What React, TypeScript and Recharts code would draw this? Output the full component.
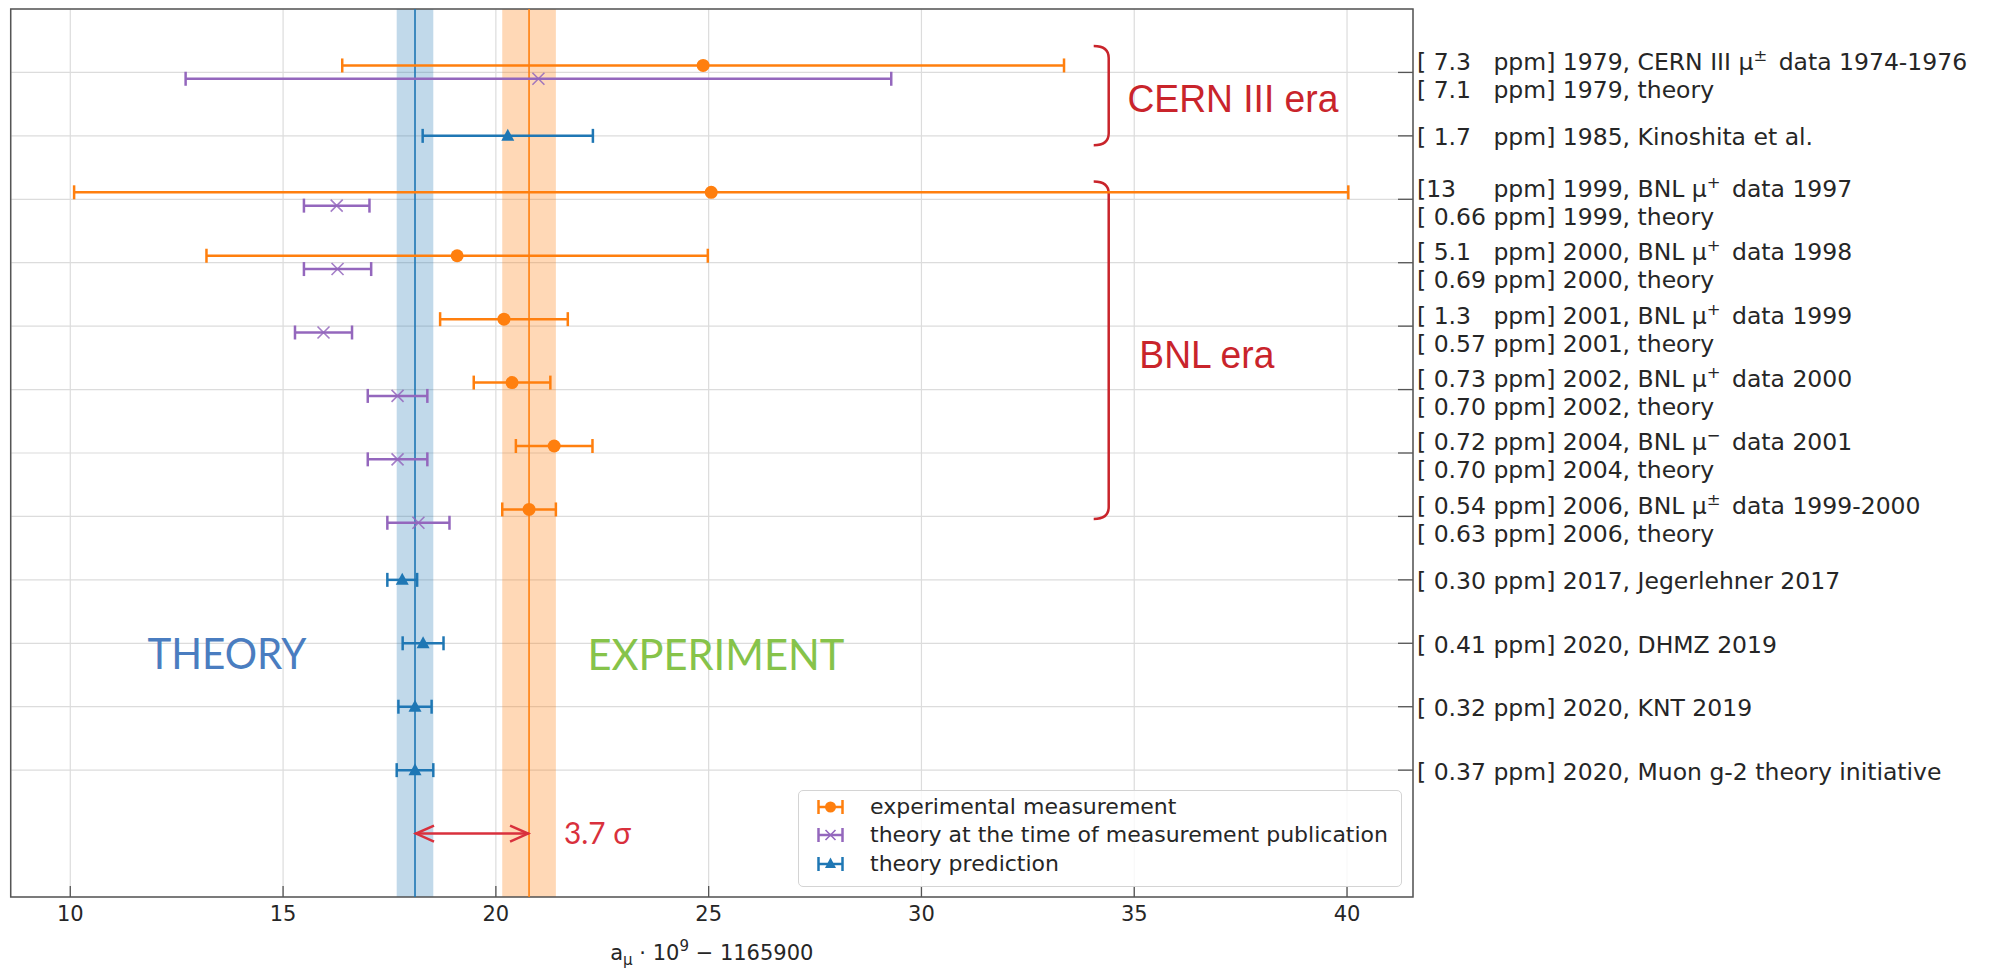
import React from 'react'
import {
  ScatterChart,
  Scatter,
  XAxis,
  YAxis,
  CartesianGrid,
  ErrorBar,
  ReferenceArea,
  ReferenceLine,
  ReferenceDot,
  Legend,
} from 'recharts'

const ORANGE = '#ff7f0e'
const PURPLE = '#9467bd'
const BLUE = '#1f77b4'
const ERA_RED = '#c9242b'
const SIGMA_RED = '#d9303c'
const TEXT = '#262626'
const FRAME = '#555555'
const MPL_FONT = '"DejaVu Sans", sans-serif'
const SLIDE_FONT = 'Lato, "Open Sans", "DejaVu Sans", sans-serif'

const xDomain: [number, number] = [8.6, 41.55]
const yDomain: [number, number] = [-1, 13]
const xTicks = [10, 15, 20, 25, 30, 35, 40]
const rowTicks = [0, 1, 2, 3, 4, 5, 6, 7, 8, 9, 10, 11]

// one entry per row (top to bottom), "^" marks a superscript character
const rowLabels: string[][] = [
  ['[ 7.3   ppm] 1979, CERN III μ^± data 1974-1976', '[ 7.1   ppm] 1979, theory'],
  ['[ 1.7   ppm] 1985, Kinoshita et al.'],
  ['[13     ppm] 1999, BNL μ^+ data 1997', '[ 0.66 ppm] 1999, theory'],
  ['[ 5.1   ppm] 2000, BNL μ^+ data 1998', '[ 0.69 ppm] 2000, theory'],
  ['[ 1.3   ppm] 2001, BNL μ^+ data 1999', '[ 0.57 ppm] 2001, theory'],
  ['[ 0.73 ppm] 2002, BNL μ^+ data 2000', '[ 0.70 ppm] 2002, theory'],
  ['[ 0.72 ppm] 2004, BNL μ^− data 2001', '[ 0.70 ppm] 2004, theory'],
  ['[ 0.54 ppm] 2006, BNL μ^± data 1999-2000', '[ 0.63 ppm] 2006, theory'],
  ['[ 0.30 ppm] 2017, Jegerlehner 2017'],
  ['[ 0.41 ppm] 2020, DHMZ 2019'],
  ['[ 0.32 ppm] 2020, KNT 2019'],
  ['[ 0.37 ppm] 2020, Muon g-2 theory initiative'],
]

// experimental measurements
const expRows = [0, 2, 3, 4, 5, 6, 7]
const expValues = [24.87, 25.06, 19.09, 20.19, 20.38, 21.37, 20.78]
const expErrors = [8.48, 14.97, 5.89, 1.5, 0.9, 0.9, 0.63]

// theory at the time of measurement publication
const pubTheoryRows = [0, 2, 3, 4, 5, 6, 7]
const pubTheoryValues = [21.0, 16.26, 16.28, 15.95, 17.69, 17.69, 18.18]
const pubTheoryErrors = [8.29, 0.77, 0.79, 0.67, 0.7, 0.7, 0.73]

// theory predictions
const predRows = [1, 8, 9, 10, 11]
const predValues = [20.28, 17.8, 18.29, 18.1, 18.1]
const predErrors = [2.0, 0.35, 0.48, 0.39, 0.43]

const legendNames = [
  'experimental measurement',
  'theory at the time of measurement publication',
  'theory prediction',
]

// rows with two points are split a little apart
const EXP_SHIFT = -0.11
const PUB_SHIFT = 0.1

const sigmaRow = 12
const sigmaText = '3.7 σ'

const eraLabels = [
  { text: 'CERN III era', x: 34.84, y: 0.41 },
  { text: 'BNL era', x: 35.12, y: 4.45 },
]
const braces = [
  { x: 34.4, from: -0.415, to: 1.15 },
  { x: 34.4, from: 1.72, to: 7.04 },
]
const regionLabels = [
  { text: 'THEORY', x: 13.68, y: 9.16, color: '#4a7dc0', length: 159 },
  { text: 'EXPERIMENT', x: 25.17, y: 9.17, color: '#86c34a', length: 257 },
]

const expData = expValues.map((v, i) => ({ x: v, y: expRows[i] + EXP_SHIFT, err: expErrors[i] }))
const pubData = pubTheoryValues.map((v, i) => ({ x: v, y: pubTheoryRows[i] + PUB_SHIFT, err: pubTheoryErrors[i] }))
const predData = predValues.map((v, i) => ({ x: v, y: predRows[i], err: predErrors[i] }))

const theoryCenter = predValues[predValues.length - 1]
const theoryErr = predErrors[predErrors.length - 1]
const expCenter = expValues[expValues.length - 1]
const expErr = expErrors[expErrors.length - 1]

const CircleMarker = (p: any) => <circle cx={p.cx} cy={p.cy} r={6.5} fill={ORANGE} />
const CrossMarker = (p: any) => {
  const s = 6
  return (
    <path
      d={`M${p.cx - s},${p.cy - s}L${p.cx + s},${p.cy + s}M${p.cx - s},${p.cy + s}L${p.cx + s},${p.cy - s}`}
      stroke={PURPLE}
      strokeOpacity={0.85}
      strokeWidth={1.6}
      fill="none"
    />
  )
}
const TriangleMarker = (p: any) => (
  <path d={`M${p.cx},${p.cy - 7}L${p.cx + 6.5},${p.cy + 5}L${p.cx - 6.5},${p.cy + 5}Z`} fill={BLUE} />
)

const richLine = (line: string, fontSize: number) => {
  const parts = line.split(/\^(.)/)
  return parts.map((part, i) => {
    if (i % 2 === 1) {
      return (
        <tspan key={i} dy={-9} fontSize={fontSize * 0.7}>
          {part}
        </tspan>
      )
    }
    if (i > 0) {
      return (
        <tspan key={i} dy={9} dx={4}>
          {part}
        </tspan>
      )
    }
    return <tspan key={i}>{part}</tspan>
  })
}

const YTick = (props: any) => {
  const { x, y, payload } = props
  const lines = rowLabels[payload.value] || []
  const firstY = lines.length === 2 ? y - 11 : y + 1
  return (
    <g>
      <line x1={x - 15} x2={x} y1={y} y2={y} stroke={FRAME} strokeWidth={1.3} />
      {lines.map((line, i) => (
        <text
          key={i}
          x={x + 4}
          y={firstY + i * 28}
          dy="0.36em"
          fontSize={23.5}
          fontFamily={MPL_FONT}
          fill={TEXT}
          style={{ whiteSpace: 'pre' }}
        >
          {richLine(line, 23.5)}
        </text>
      ))}
    </g>
  )
}

const XTick = (props: any) => {
  const { x, y, payload } = props
  return (
    <g>
      <line x1={x} x2={x} y1={y - 11} y2={y} stroke={FRAME} strokeWidth={1.3} />
      <text x={x} y={y + 16} dy="0.36em" textAnchor="middle" fontSize={21} fontFamily={MPL_FONT} fill={TEXT}>
        {payload.value}
      </text>
    </g>
  )
}

const TopTick = (props: any) => {
  const { x, y } = props
  return <line x1={x} x2={x} y1={y} y2={y + 11} stroke={FRAME} strokeWidth={1.3} />
}

const XTitle = (props: any) => {
  const vb = props.viewBox || { x: 0, y: 0, width: 0 }
  const cx = vb.x + vb.width / 2
  return (
    <text x={cx} y={vb.y + 63} textAnchor="middle" fontSize={21} fontFamily={MPL_FONT} fill={TEXT} style={{ whiteSpace: 'pre' }}>
      <tspan>a</tspan>
      <tspan dy={5} fontSize={15}>μ</tspan>
      <tspan dy={-5}> · 10</tspan>
      <tspan dy={-9} fontSize={15}>9</tspan>
      <tspan dy={9}> − 1165900</tspan>
    </text>
  )
}

const SigmaArrow = (p: any) => {
  const l = Math.min(p.x1, p.x2)
  const r = Math.max(p.x1, p.x2)
  const y = p.y1
  return (
    <g stroke={SIGMA_RED} strokeWidth={2.5} fill="none">
      <path d={`M${l},${y}L${r},${y}`} />
      <path d={`M${l + 19},${y - 8}L${l + 1},${y}L${l + 19},${y + 8}`} />
      <path d={`M${r - 19},${y - 8}L${r - 1},${y}L${r - 19},${y + 8}`} />
    </g>
  )
}

const Brace = (p: any) => {
  const x = p.x1
  const top = Math.min(p.y1, p.y2)
  const bot = Math.max(p.y1, p.y2)
  return (
    <path
      d={`M${x - 15},${top} Q${x},${top} ${x},${top + 12} L${x},${bot - 12} Q${x},${bot} ${x - 15},${bot}`}
      stroke={ERA_RED}
      strokeWidth={2.5}
      fill="none"
    />
  )
}

const LegendIcon = ({ color, kind }: { color: string; kind: number }) => (
  <svg width={27} height={16} style={{ display: 'block' }}>
    <g stroke={color} strokeWidth={2.5}>
      <line x1={1} x2={26} y1={8} y2={8} />
      <line x1={1.5} x2={1.5} y1={1} y2={15} />
      <line x1={25.5} x2={25.5} y1={1} y2={15} />
    </g>
    {kind === 0 && <circle cx={13.5} cy={8} r={5.5} fill={color} />}
    {kind === 1 && (
      <path d="M8.5,3L18.5,13M8.5,13L18.5,3" stroke={color} strokeWidth={1.6} fill="none" />
    )}
    {kind === 2 && <path d="M13.5,1.5L19,12L8,12Z" fill={color} />}
  </svg>
)

const renderLegend = () => {
  const colors = [ORANGE, PURPLE, BLUE]
  return (
    <div
      style={{
        width: 604,
        height: 97,
        boxSizing: 'border-box',
        border: '1.5px solid #d4d4d4',
        borderRadius: 5,
        background: 'rgba(255,255,255,0.8)',
        paddingTop: 2,
      }}
    >
      {legendNames.map((name, i) => (
        <div key={name} style={{ display: 'flex', alignItems: 'center', height: 28.3 }}>
          <div style={{ width: 18 }} />
          <LegendIcon color={colors[i]} kind={i} />
          <span
            style={{
              marginLeft: 26,
              fontFamily: MPL_FONT,
              fontSize: 22,
              color: TEXT,
              whiteSpace: 'nowrap',
              lineHeight: '28px',
            }}
          >
            {name}
          </span>
        </div>
      ))}
    </div>
  )
}

export default function App() {
  return (
    <div style={{ position: 'absolute', left: 0, top: 0, background: '#fff' }}>
      <ScatterChart width={1992} height={968} margin={{ top: 9, right: 0, bottom: 0, left: 10.7 }}>
        <CartesianGrid stroke="#dcdcdc" strokeWidth={1.2} />
        <XAxis
          type="number"
          dataKey="x"
          domain={xDomain}
          allowDataOverflow
          ticks={xTicks}
          interval={0}
          height={71}
          tickSize={0}
          tickMargin={0}
          axisLine={false}
          tick={XTick}
          label={<XTitle />}
        />
        <XAxis
          xAxisId="top"
          orientation="top"
          type="number"
          dataKey="x"
          domain={xDomain}
          allowDataOverflow
          ticks={xTicks}
          interval={0}
          height={0}
          tickSize={0}
          tickMargin={0}
          axisLine={false}
          tick={TopTick}
        />
        <YAxis
          type="number"
          dataKey="y"
          orientation="right"
          domain={yDomain}
          allowDataOverflow
          reversed
          ticks={rowTicks}
          interval={0}
          width={579}
          tickSize={0}
          tickMargin={0}
          axisLine={false}
          tick={YTick}
        />

        <ReferenceArea
          x1={theoryCenter - theoryErr}
          x2={theoryCenter + theoryErr}
          fill={BLUE}
          fillOpacity={0.28}
          stroke="none"
        />
        <ReferenceArea
          x1={expCenter - expErr}
          x2={expCenter + expErr}
          fill={ORANGE}
          fillOpacity={0.3}
          stroke="none"
        />
        <ReferenceLine x={theoryCenter} stroke={BLUE} strokeWidth={1.6} />
        <ReferenceLine x={expCenter} stroke={ORANGE} strokeWidth={1.6} />
        <ReferenceArea
          x1={xDomain[0]}
          x2={xDomain[1]}
          y1={yDomain[0]}
          y2={yDomain[1]}
          fill="none"
          stroke={FRAME}
          strokeWidth={1.5}
        />

        <ReferenceLine
          segment={[
            { x: theoryCenter, y: sigmaRow },
            { x: expCenter, y: sigmaRow },
          ]}
          shape={SigmaArrow}
        />
        <ReferenceDot
          x={21.6}
          y={sigmaRow}
          r={0}
          shape={(p: any) => (
            <text x={p.cx} y={p.cy} dy="0.36em" fontSize={30} fontFamily={SLIDE_FONT} fill={SIGMA_RED} textLength={67} lengthAdjust="spacingAndGlyphs">
              {sigmaText}
            </text>
          )}
        />

        {braces.map((b, i) => (
          <ReferenceLine
            key={'brace' + i}
            segment={[
              { x: b.x, y: b.from },
              { x: b.x, y: b.to },
            ]}
            shape={Brace}
          />
        ))}
        {eraLabels.map((a) => (
          <ReferenceDot
            key={a.text}
            x={a.x}
            y={a.y}
            r={0}
            shape={(p: any) => (
              <text x={p.cx} y={p.cy} dy="0.36em" fontSize={38} fontFamily='"Liberation Sans", Arial, sans-serif' fill={ERA_RED} textLength={a.text === 'BNL era' ? 135 : 211} lengthAdjust="spacingAndGlyphs">
                {a.text}
              </text>
            )}
          />
        ))}
        {regionLabels.map((a) => (
          <ReferenceDot
            key={a.text}
            x={a.x}
            y={a.y}
            r={0}
            shape={(p: any) => (
              <text x={p.cx} y={p.cy} dy="0.36em" textAnchor="middle" fontSize={43} fontFamily={SLIDE_FONT} fill={a.color} textLength={a.length} lengthAdjust="spacingAndGlyphs">
                {a.text}
              </text>
            )}
          />
        ))}

        <Scatter name={legendNames[0]} data={expData} shape={CircleMarker} isAnimationActive={false}>
          <ErrorBar dataKey="err" direction="x" width={7} stroke={ORANGE} strokeWidth={2.5} isAnimationActive={false} />
        </Scatter>
        <Scatter name={legendNames[1]} data={pubData} shape={CrossMarker} isAnimationActive={false}>
          <ErrorBar dataKey="err" direction="x" width={7} stroke={PURPLE} strokeWidth={2.5} isAnimationActive={false} />
        </Scatter>
        <Scatter name={legendNames[2]} data={predData} shape={TriangleMarker} isAnimationActive={false}>
          <ErrorBar dataKey="err" direction="x" width={7} stroke={BLUE} strokeWidth={2.5} isAnimationActive={false} />
        </Scatter>

        <Legend
          layout="vertical"
          align="center"
          verticalAlign="middle"
          content={renderLegend}
          wrapperStyle={{ left: 798, top: 790, width: 604, height: 97 }}
        />
      </ScatterChart>
    </div>
  )
}
